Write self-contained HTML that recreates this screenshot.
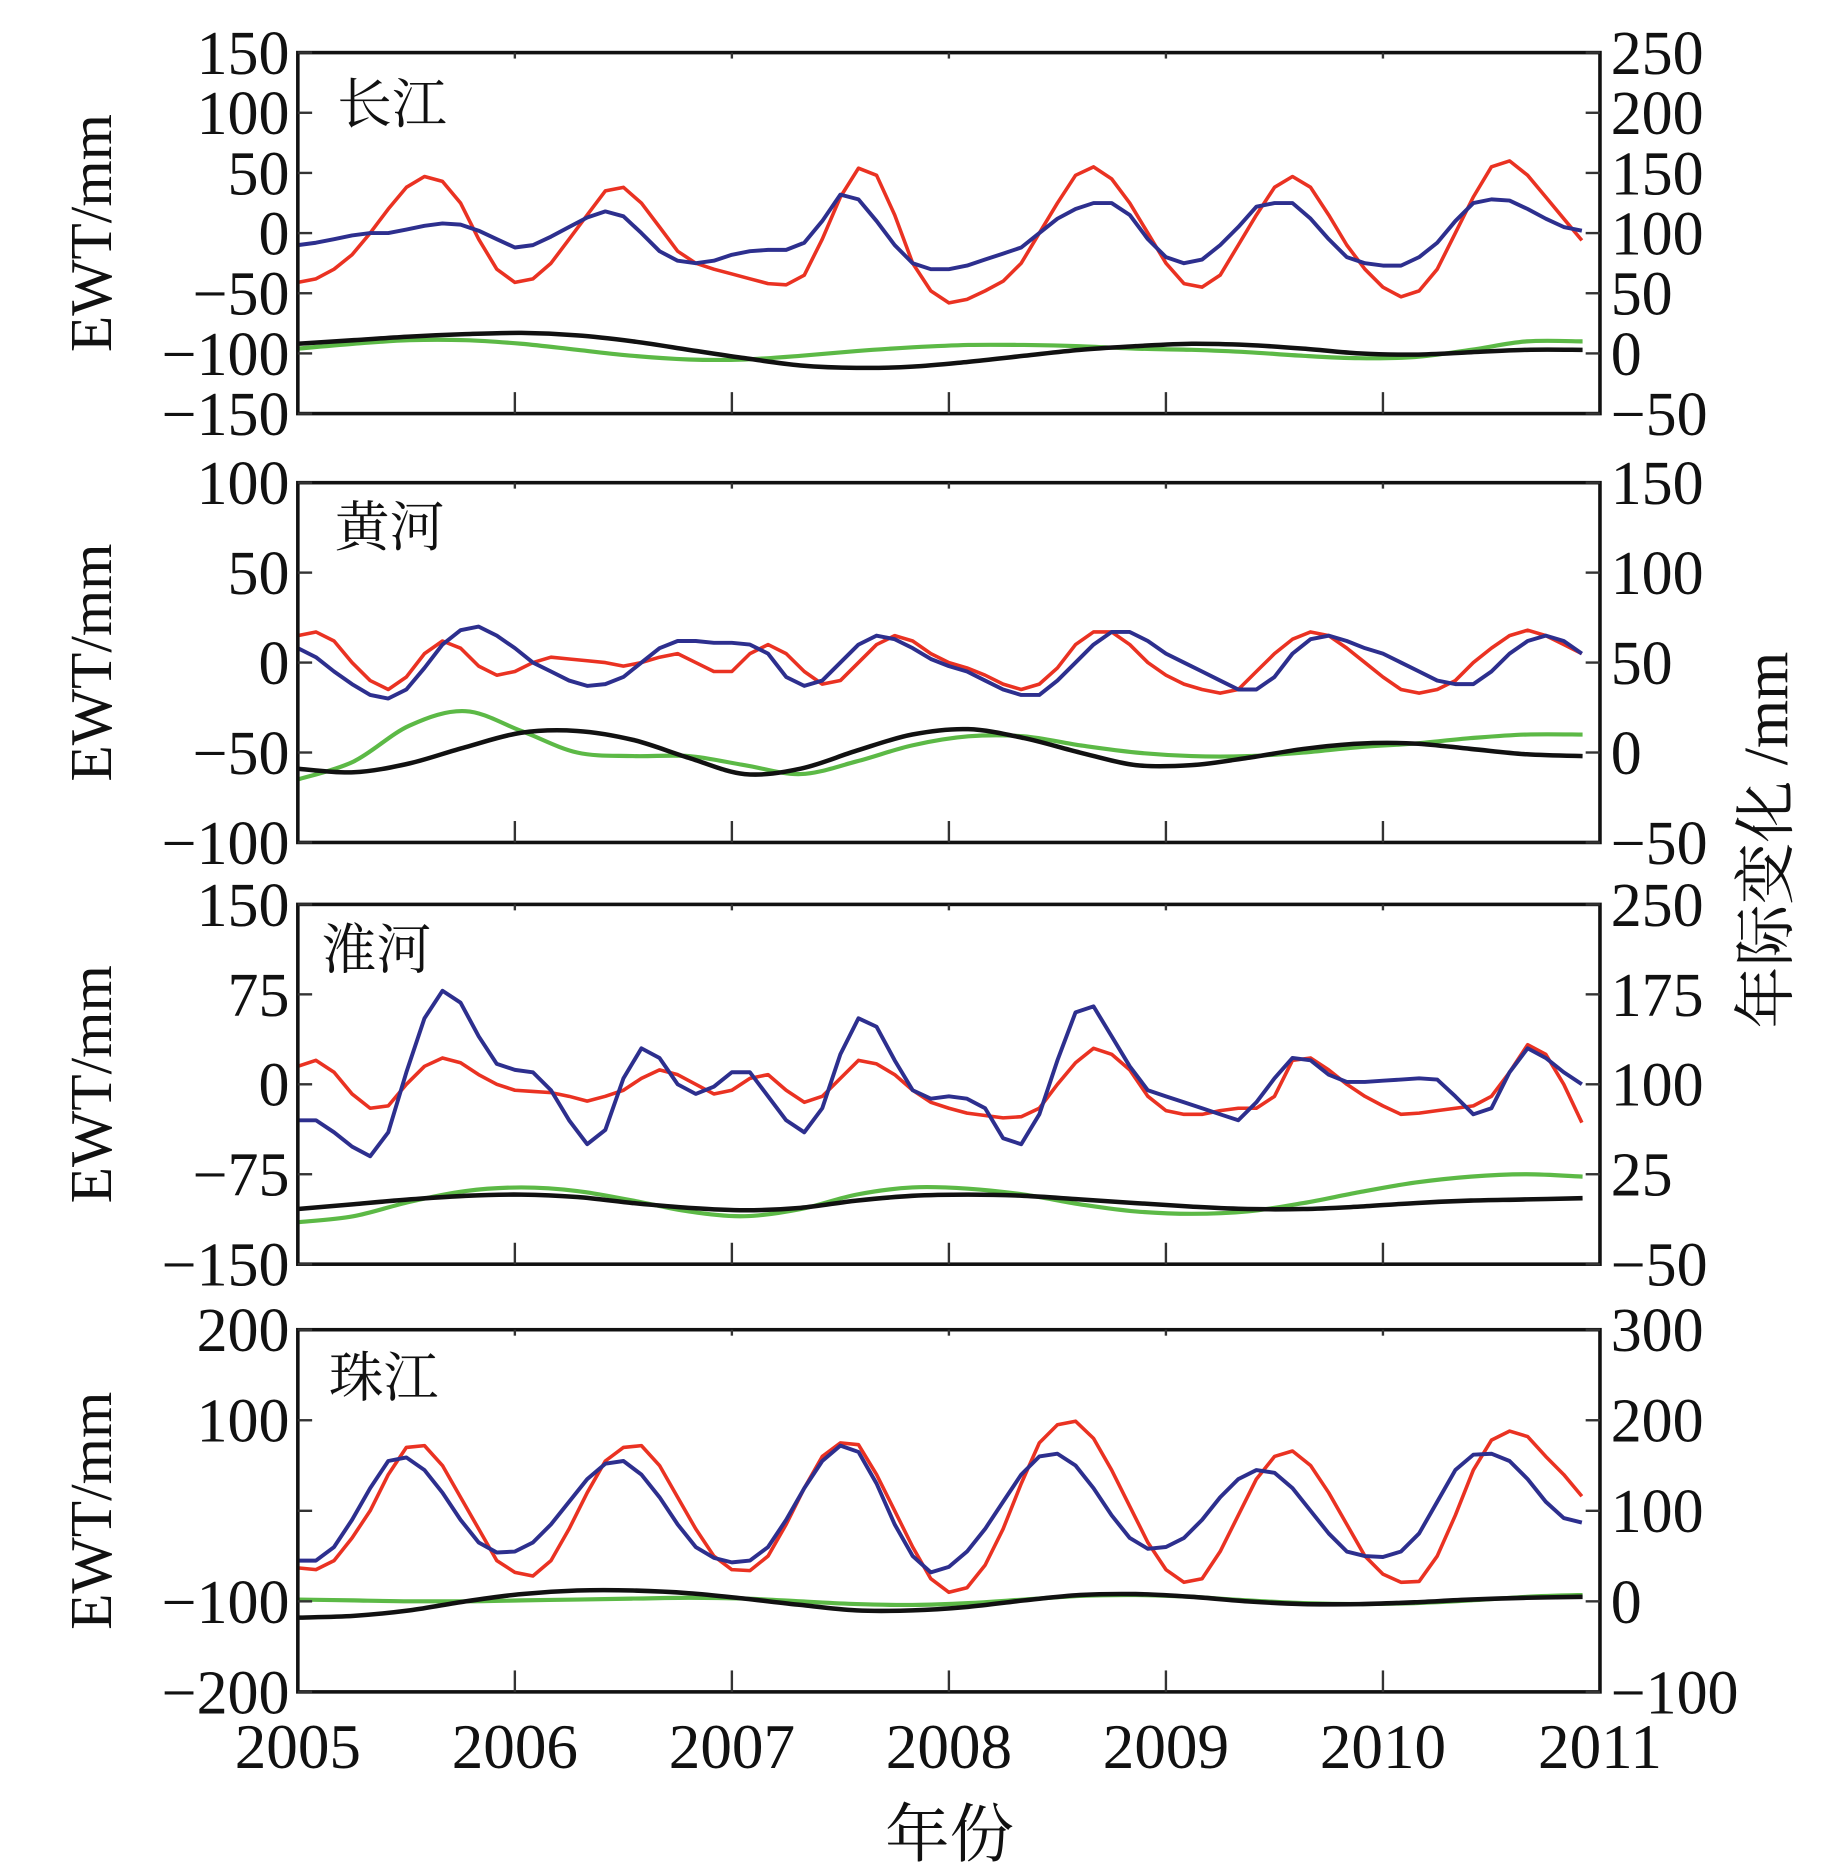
<!DOCTYPE html>
<html><head><meta charset="utf-8"><style>
html,body{margin:0;padding:0;background:#fff;}
svg{display:block;}
text{font-family:"Liberation Serif","Noto Serif CJK SC","Noto Sans CJK SC",serif;fill:#111;}
</style></head><body>
<svg id="chart" width="1843" height="1866" viewBox="0 0 1547 1566" xmlns="http://www.w3.org/2000/svg"></svg>
<script>
const years = ["2005","2006","2007","2008","2009","2010","2011"];
const panelNames = ["长江","黄河","淮河","珠江"];
const leftTicks1 = [150,100,50,0,-50,-100,-150];
const rightTicks1 = [250,200,150,100,50,0,-50];
const leftTicks2 = [100,50,0,-50,-100];
const rightTicks2 = [150,100,50,0,-50];
const leftTicks3 = [150,75,0,-75,-150];
const rightTicks3 = [250,175,100,25,-50];
const leftTicks4 = [200,100,0,-100,-200];
const leftLabels4 = ["200","100","","−100","−200"];
const rightTicks4 = [300,200,100,0,-100];
// monthly series (2005.0 .. 2010.917), left-axis units
const red1 = [-41,-38,-30,-18,0,20,38,47,43,25,-5,-30, -41,-38,-25,-5,15,35,38,25,5,-15,-25,-30, -34,-38,-42,-43,-35,-5,30,54,48,15,-25,-48, -58,-55,-48,-40,-25,0,25,48,55,45,25,0, -25,-42,-45,-35,-10,15,38,47,38,15,-10,-30, -45,-53,-48,-30,0,30,55,60,48,30,12,-6];
const blue1 = [-10,-8,-5,-2,0,0,3,6,8,7,2,-5, -12,-10,-3,5,13,18,14,0,-15,-23,-25,-23, -18,-15,-14,-14,-8,10,32,28,10,-10,-25,-30, -30,-27,-22,-17,-12,0,12,20,25,25,15,-5, -20,-25,-22,-10,5,22,25,25,12,-5,-20,-25, -27,-27,-20,-8,10,25,28,27,20,12,5,2];
const red2 = [15,17,12,0,-10,-15,-8,5,12,8,-2,-7, -5,0,3,2,1,0,-2,0,3,5,0,-5, -5,5,10,5,-5,-12,-10,0,10,15,12,5, 0,-3,-7,-12,-15,-12,-3,10,17,17,10,0, -7,-12,-15,-17,-15,-5,5,13,17,15,8,0, -8,-15,-17,-15,-10,0,8,15,18,15,10,5];
const blue2 = [8,3,-5,-12,-18,-20,-15,-3,10,18,20,15, 8,0,-5,-10,-13,-12,-8,0,8,12,12,11, 11,10,5,-8,-13,-10,0,10,15,13,8,2, -2,-5,-10,-15,-18,-18,-10,0,10,17,17,12, 5,0,-5,-10,-15,-15,-8,5,13,15,12,8, 5,0,-5,-10,-12,-12,-5,5,12,15,12,5];
const red3 = [15,20,10,-8,-20,-18,0,15,22,18,8,0, -5,-6,-7,-10,-14,-10,-5,5,12,8,0,-8, -5,5,8,-5,-15,-10,5,20,17,8,-5,-15, -20,-24,-26,-28,-27,-20,0,18,30,25,12,-10, -22,-25,-25,-22,-20,-20,-10,20,22,12,0,-10, -18,-25,-24,-22,-20,-18,-10,10,33,25,0,-32];
const blue3 = [-30,-30,-40,-52,-60,-40,10,55,78,68,40,17, 12,10,-5,-30,-50,-38,5,30,22,0,-8,-2, 10,10,-10,-30,-40,-20,25,55,48,20,-5,-12, -10,-12,-20,-45,-50,-25,20,60,65,40,15,-5, -10,-15,-20,-25,-30,-15,5,22,20,8,2,2, 3,4,5,4,-10,-25,-20,10,30,22,10,0];
const red4 = [-63,-65,-55,-30,0,40,70,72,50,15,-20,-55, -68,-72,-55,-20,20,55,70,72,50,15,-20,-50, -65,-66,-50,-15,25,60,75,73,40,0,-40,-75, -90,-85,-60,-20,30,75,95,99,80,45,5,-35, -65,-79,-75,-45,-5,35,60,66,50,20,-15,-50, -70,-79,-78,-50,-5,45,78,88,82,60,40,16];
const blue4 = [-55,-55,-40,-10,25,55,59,45,20,-10,-35,-46, -45,-35,-15,10,35,52,55,40,15,-15,-40,-52, -57,-55,-40,-10,25,55,72,65,30,-15,-50,-68, -62,-45,-20,10,40,60,63,50,25,-5,-30,-42, -40,-30,-10,15,35,45,42,25,0,-25,-45,-50, -51,-45,-25,10,45,62,63,55,35,10,-8,-13];
// smooth interannual series, 24 points evenly from 2005.0 to 2010.92
const green1 = [-96,-92,-89,-89,-92,-97,-102,-105,-105,-102,-98,-95,-93,-93,-94,-96,-97,-99,-102,-104,-103,-97,-90,-90];
const black1 = [-92,-89,-86,-84,-83,-85,-90,-97,-104,-110,-112,-111,-107,-102,-97,-94,-92,-93,-96,-100,-101,-99,-97,-97];
const green2 = [-65,-55,-35,-27,-38,-50,-52,-52,-57,-62,-55,-46,-41,-41,-46,-50,-52,-52,-50,-47,-45,-42,-40,-40];
const black2 = [-59,-61,-56,-47,-39,-38,-43,-53,-62,-59,-49,-40,-37,-42,-50,-57,-57,-53,-48,-45,-45,-48,-51,-52];
const green3 = [-115,-110,-98,-89,-86,-89,-97,-106,-110,-104,-92,-86,-87,-92,-100,-106,-108,-106,-99,-90,-82,-77,-75,-77];
const black3 = [-104,-100,-96,-93,-92,-94,-99,-103,-105,-103,-97,-93,-92,-93,-96,-99,-102,-104,-104,-102,-99,-97,-96,-95];
const green4 = [-98,-99,-100,-100,-99,-98,-97,-96,-97,-100,-103,-104,-102,-98,-94,-93,-95,-99,-102,-103,-102,-99,-95,-93];
const black4 = [-118,-116,-110,-100,-92,-88,-88,-91,-97,-104,-110,-110,-106,-99,-93,-92,-95,-100,-103,-103,-101,-98,-96,-95];

const NS = "http://www.w3.org/2000/svg";
const svg = document.getElementById("chart");
const X0 = 250, X1 = 1343;
function xScale(t){ return X0 + (t - 2005) / 6 * (X1 - X0); }
function mk(tag, attrs, parent){ const e = document.createElementNS(NS, tag); for (const k in attrs) e.setAttribute(k, attrs[k]); (parent||svg).appendChild(e); return e; }
function fmt(v){ return v < 0 ? "−" + Math.abs(v) : String(v); }

const panels = [
  {top:44,bot:347,lmin:-150,lmax:150,lt:leftTicks1,ll:null,rt:rightTicks1,off:100,red:red1,blue:blue1,green:green1,black:black1,tx:283,ty:103},
  {top:405,bot:707,lmin:-100,lmax:100,lt:leftTicks2,ll:null,rt:rightTicks2,off:50,red:red2,blue:blue2,green:green2,black:black2,tx:281,ty:458},
  {top:759,bot:1061,lmin:-150,lmax:150,lt:leftTicks3,ll:null,rt:rightTicks3,off:100,red:red3,blue:blue3,green:green3,black:black3,tx:270,ty:813},
  {top:1116,bot:1420,lmin:-200,lmax:200,lt:leftTicks4,ll:leftLabels4,rt:rightTicks4,off:100,red:red4,blue:blue4,green:green4,black:black4,tx:276,ty:1172}
];

function smoothPath(pts){
  let d = "M" + pts[0][0].toFixed(1) + "," + pts[0][1].toFixed(1);
  for (let i = 0; i < pts.length - 1; i++){
    const p0 = pts[Math.max(0,i-1)], p1 = pts[i], p2 = pts[i+1], p3 = pts[Math.min(pts.length-1,i+2)];
    const c1x = p1[0] + (p2[0]-p0[0])/6, c1y = p1[1] + (p2[1]-p0[1])/6;
    const c2x = p2[0] - (p3[0]-p1[0])/6, c2y = p2[1] - (p3[1]-p1[1])/6;
    d += " C" + c1x.toFixed(1)+","+c1y.toFixed(1)+" "+c2x.toFixed(1)+","+c2y.toFixed(1)+" "+p2[0].toFixed(1)+","+p2[1].toFixed(1);
  }
  return d;
}

panels.forEach((p, pi) => {
  const g = mk("g", {});
  
  
  const y = v => p.bot - (v - p.lmin) / (p.lmax - p.lmin) * (p.bot - p.top);
  const greenPts = p.green.map((v,i) => [xScale(2005 + i*(5.92/(p.green.length-1))), y(v)]);
  const gp = mk("path", {d: smoothPath(greenPts), fill:"none", stroke:"#5cb946", "stroke-width":3.5}, g);
  
  
  const blackPts = p.black.map((v,i) => [xScale(2005 + i*(5.92/(p.black.length-1))), y(v)]);
  const bp = mk("path", {d: smoothPath(blackPts), fill:"none", stroke:"#111", "stroke-width":3.8}, g);
  
  
  const redPts = p.red.map((v,i) => xScale(2005 + i/12).toFixed(1) + "," + y(v).toFixed(1)).join(" ");
  const rl = mk("polyline", {points: redPts, fill:"none", stroke:"#ea3222", "stroke-width":3, "stroke-linejoin":"round"}, g);
  
  
  const bluePts = p.blue.map((v,i) => xScale(2005 + i/12).toFixed(1) + "," + y(v).toFixed(1)).join(" ");
  const bl = mk("polyline", {points: bluePts, fill:"none", stroke:"#2d2f8e", "stroke-width":3.3, "stroke-linejoin":"round"}, g);
  
  
  const fr = mk("rect", {x:X0, y:p.top, width:X1-X0, height:p.bot-p.top, fill:"none", stroke:"#111", "stroke-width":3}, g);
  
  
  p.lt.forEach((v, k) => {
    const yy = y(v);
    mk("line", {x1:X0, x2:X0+12, y1:yy, y2:yy, stroke:"#333", "stroke-width":2}, g);
    const lab = p.ll ? p.ll[k] : fmt(v);
    if (lab === "") return;
    const t = mk("text", {x:243, y:yy+18, "text-anchor":"end", "font-size":52}, g);
    t.textContent = lab;
    
    
  });
  p.rt.forEach(v => {
    const yy = y(v - p.off);
    mk("line", {x1:X1-12, x2:X1, y1:yy, y2:yy, stroke:"#333", "stroke-width":2}, g);
    const t = mk("text", {x:1352, y:yy+18, "text-anchor":"start", "font-size":52}, g);
    t.textContent = fmt(v);
    
    
  });
  for (let k = 1; k < years.length - 1; k++){
    const xx = xScale(2005 + k);
    mk("line", {x1:xx, x2:xx, y1:p.bot, y2:p.bot-18, stroke:"#333", "stroke-width":2}, g);
    mk("line", {x1:xx, x2:xx, y1:p.top, y2:p.top+5, stroke:"#333", "stroke-width":2}, g);
  }
  const tt = mk("text", {x:p.tx, y:p.ty, "font-size":46}, g);
  tt.textContent = panelNames[pi];
  
  
  const cy = (p.top + p.bot) / 2;
  const yt = mk("text", {x:0, y:0, "font-size":50, "text-anchor":"middle", transform:"translate(93," + cy + ") rotate(-90)"}, g);
  yt.textContent = "EWT/mm";
  
  
});

years.forEach((yr, k) => {
  const t = mk("text", {x:xScale(2005+k), y:1484, "text-anchor":"middle", "font-size":53});
  t.textContent = yr;
  
  
});
const xt = mk("text", {x:797, y:1558, "text-anchor":"middle", "font-size":54});
xt.textContent = "年份";


const rt = mk("text", {x:0, y:0, "text-anchor":"middle", "font-size":52, transform:"translate(1500,705) rotate(-90)"});
rt.textContent = "年际变化 /mm";


</script>
</body></html>
